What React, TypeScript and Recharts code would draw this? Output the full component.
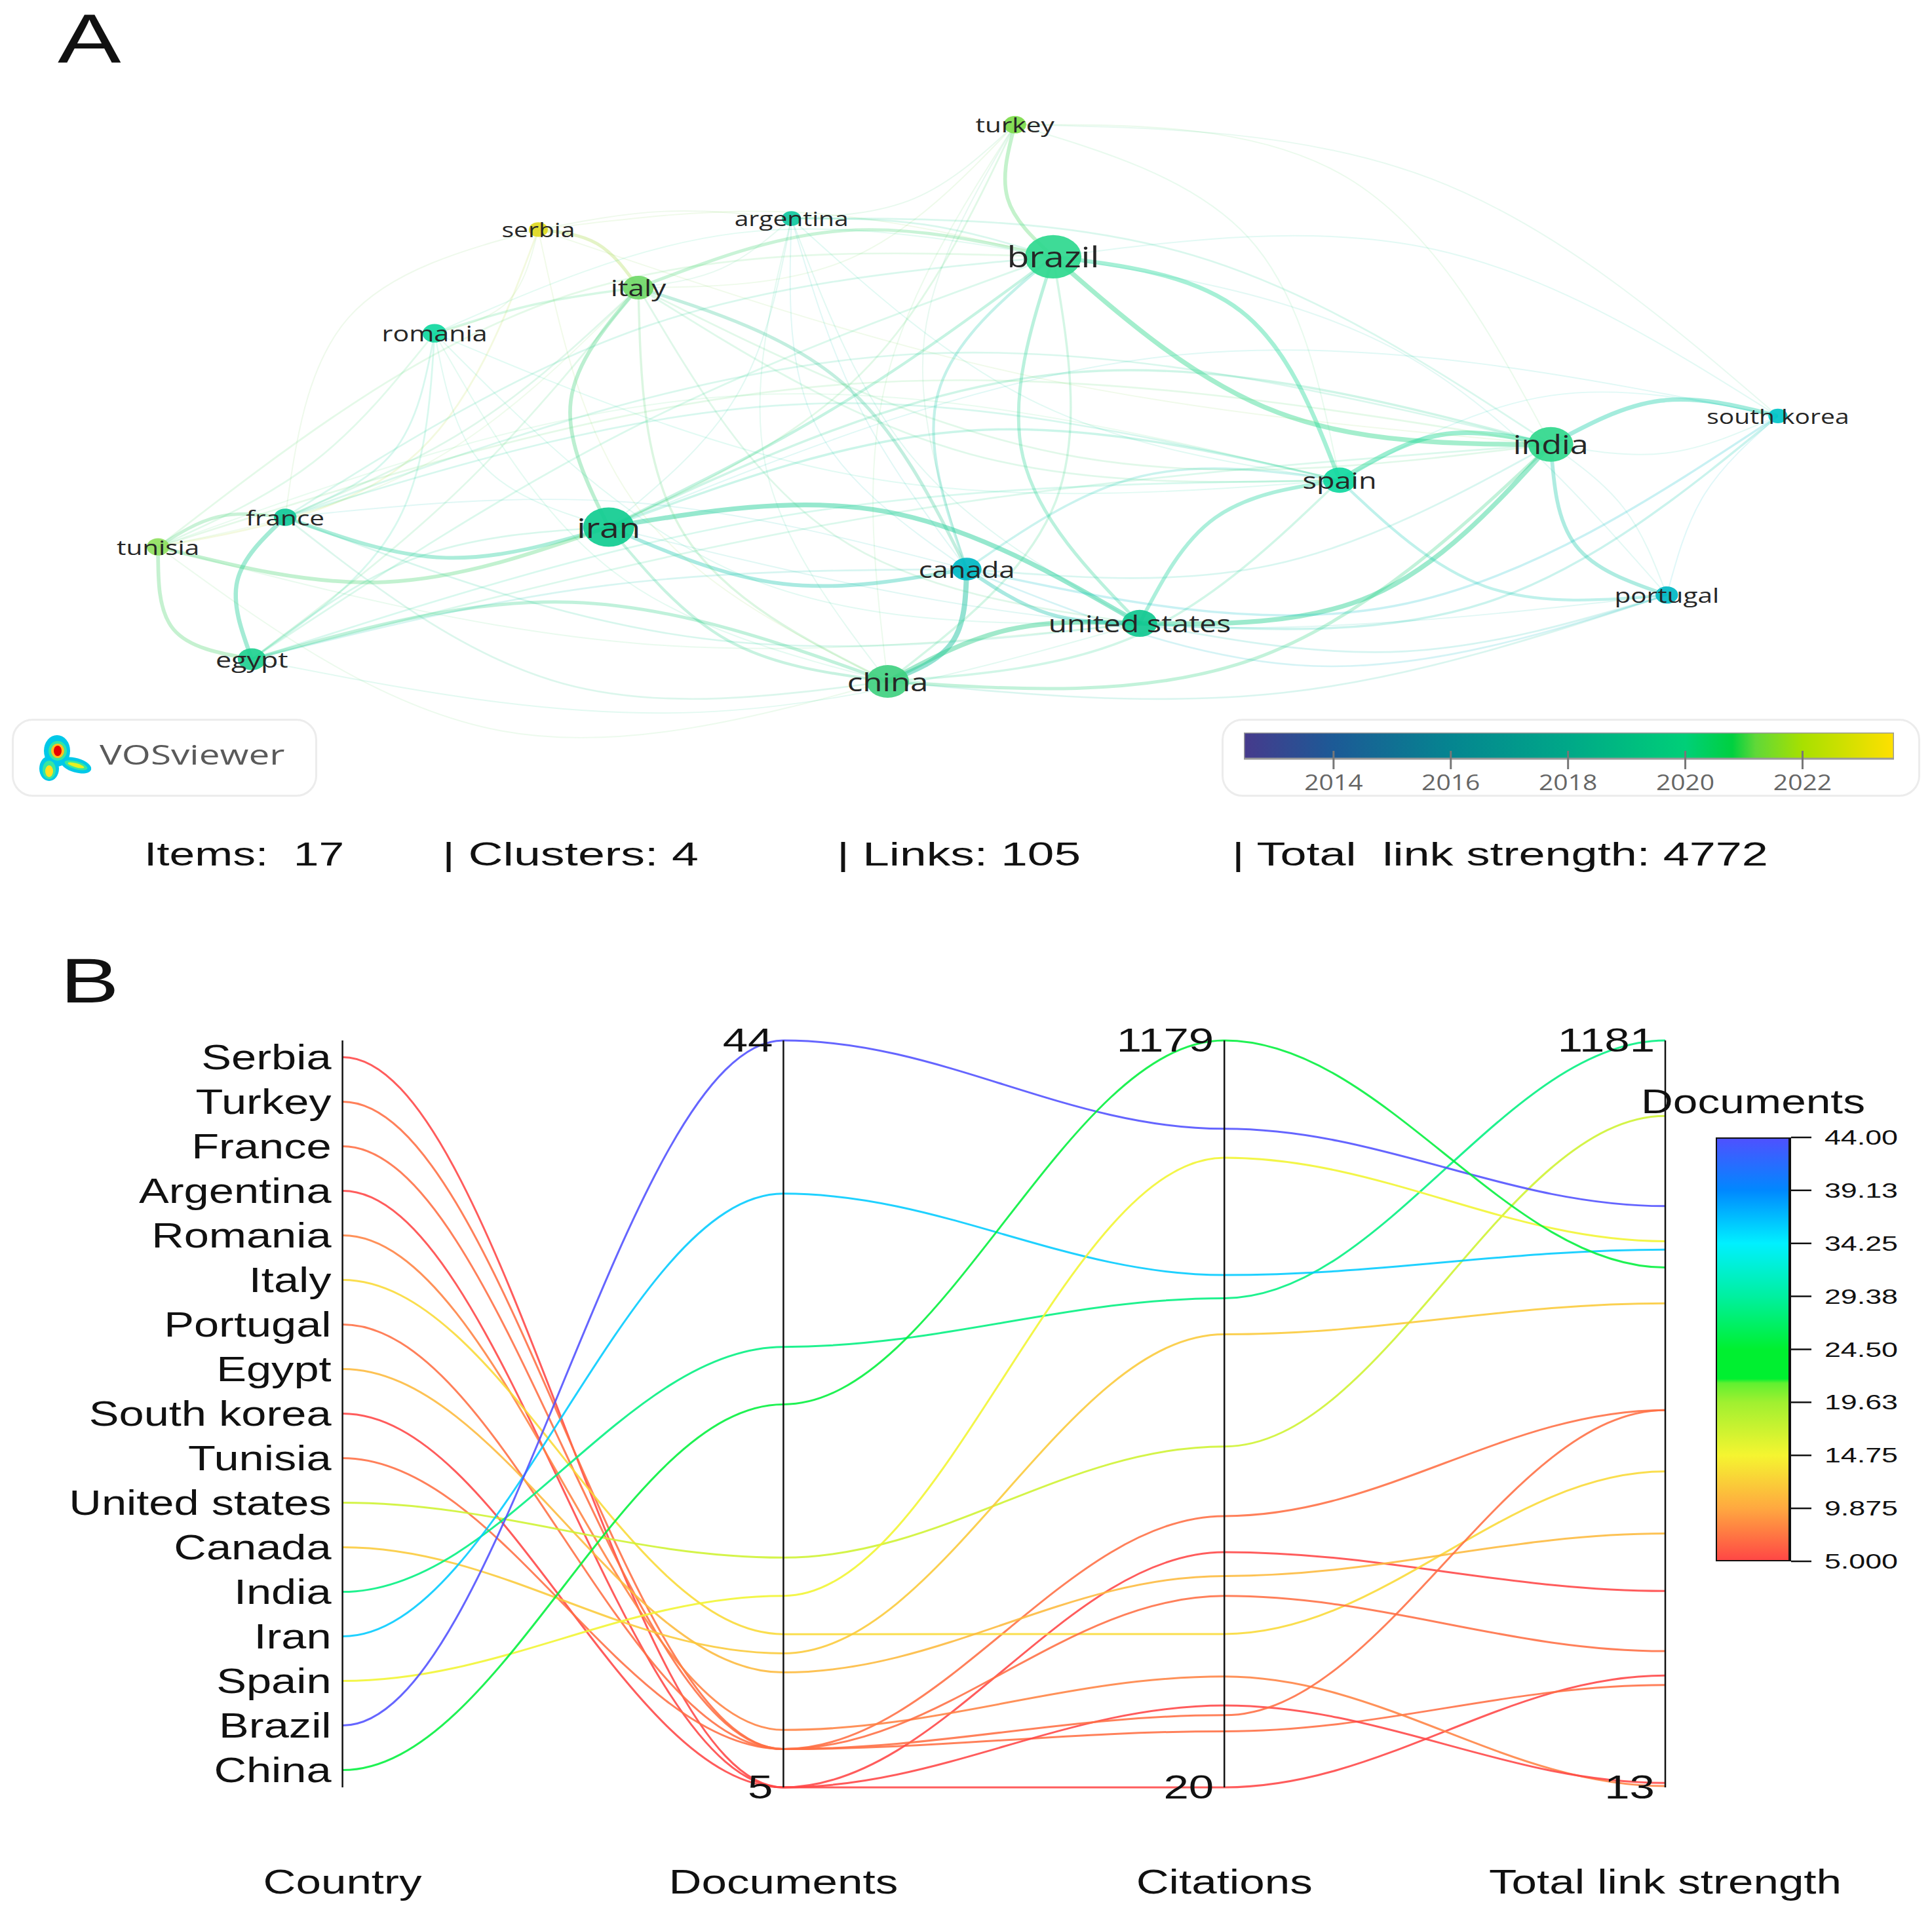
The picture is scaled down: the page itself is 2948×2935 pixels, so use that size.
import {
  Bar,
  BarChart,
  LineChart,
  Line,
  ReferenceDot,
  ReferenceLine,
  Scatter,
  ScatterChart,
  XAxis,
  YAxis,
} from "recharts"

// Panel A, network map. Coordinates are in map units (1 unit = 1.884 px on the page)
const nodeNames = ["turkey", "brazil", "argentina", "serbia", "italy", "romania", "india", "south korea", "spain", "iran", "france", "tunisia", "canada", "portugal", "united states", "egypt", "china"]
const nodeX = [822, 853, 641, 436, 517, 352, 1256, 1440, 1085, 493, 231, 128, 783, 1350, 923, 204, 719]
const nodeY = [101, 208, 177, 186, 233, 270, 360, 337, 389, 427, 419, 443, 461, 482, 505, 534, 552]
const nodeDocs = [7, 44, 5, 5, 13, 8, 28, 5, 15, 36, 7, 7, 12, 7, 17, 11, 25]
const nodeColors = ["#7ddc4a", "#2ed88e", "#10c8a0", "#e0d820", "#70d868", "#10d8a0", "#30d88c", "#00c4c8", "#10d8a0", "#10cc90", "#10c898", "#90e060", "#00b8c4", "#00b8c4", "#10c890", "#20d090", "#40d080"]

// from, to, bow of the arc relative to its length, link strength
const links: [string, string, number, number][] = [
  ["turkey", "brazil", -0.2, 6],
  ["serbia", "italy", 0.15, 5],
  ["italy", "brazil", 0.1, 5],
  ["italy", "iran", -0.22, 6],
  ["italy", "canada", 0.14, 5],
  ["iran", "united states", 0.12, 8],
  ["iran", "canada", -0.1, 6],
  ["france", "iran", -0.11, 6],
  ["tunisia", "iran", -0.1, 6],
  ["tunisia", "france", 0.12, 5],
  ["tunisia", "egypt", -0.28, 6],
  ["france", "egypt", -0.22, 7],
  ["egypt", "china", 0.107, 5],
  ["iran", "china", -0.13, 4],
  ["canada", "china", 0.22, 9],
  ["china", "united states", 0.09, 8],
  ["canada", "united states", -0.1, 6],
  ["china", "india", -0.145, 5],
  ["united states", "india", -0.15, 8],
  ["brazil", "spain", 0.2, 7],
  ["brazil", "india", -0.125, 8],
  ["spain", "india", 0.13, 8],
  ["india", "south korea", 0.13, 7],
  ["india", "portugal", -0.22, 6],
  ["spain", "portugal", -0.15, 4],
  ["spain", "united states", -0.17, 6],
  ["spain", "china", 0.12, 3],
  ["brazil", "united states", -0.2, 5],
  ["brazil", "canada", -0.23, 4],
  ["brazil", "china", 0.2, 3],
  ["iran", "brazil", -0.03, 4],
  ["iran", "spain", 0.1, 3],
  ["iran", "india", 0.12, 3],
  ["canada", "south korea", -0.14, 3],
  ["canada", "spain", 0.13, 3],
  ["united states", "south korea", -0.13, 3],
  ["china", "portugal", -0.07, 2],
  ["united states", "portugal", -0.08, 2],
  ["canada", "portugal", -0.12, 2],
  ["canada", "india", -0.1, 2],
  ["serbia", "tunisia", 0.19, 2],
  ["serbia", "romania", 0.2, 1],
  ["serbia", "france", -0.22, 1],
  ["serbia", "argentina", 0.05, 1],
  ["serbia", "brazil", 0.06, 1],
  ["serbia", "china", -0.16, 1],
  ["serbia", "india", -0.04, 1],
  ["turkey", "italy", 0.14, 1],
  ["turkey", "iran", 0.12, 2],
  ["turkey", "china", -0.12, 1],
  ["turkey", "spain", 0.2, 1],
  ["turkey", "india", 0.2, 1],
  ["turkey", "south korea", 0.12, 1],
  ["turkey", "argentina", 0.12, 1],
  ["turkey", "canada", -0.15, 1],
  ["argentina", "iran", 0.12, 1],
  ["argentina", "canada", -0.18, 1],
  ["argentina", "india", 0.1, 2],
  ["argentina", "italy", 0.1, 1],
  ["argentina", "brazil", 0.05, 2],
  ["argentina", "spain", -0.1, 1],
  ["argentina", "china", -0.16, 1],
  ["argentina", "united states", -0.12, 1],
  ["romania", "italy", 0.03, 3],
  ["romania", "france", 0.18, 2],
  ["romania", "egypt", 0.16, 2],
  ["romania", "tunisia", 0.08, 2],
  ["romania", "iran", -0.2, 1],
  ["romania", "china", -0.14, 1],
  ["romania", "brazil", 0.1, 1],
  ["romania", "spain", -0.08, 1],
  ["romania", "united states", -0.14, 1],
  ["italy", "france", 0.06, 2],
  ["italy", "tunisia", 0.1, 1],
  ["italy", "egypt", 0.04, 2],
  ["italy", "china", -0.2, 3],
  ["italy", "united states", -0.16, 2],
  ["italy", "spain", -0.1, 2],
  ["italy", "india", -0.1, 2],
  ["france", "brazil", 0.08, 2],
  ["france", "india", 0.1, 2],
  ["france", "spain", 0.09, 2],
  ["france", "united states", -0.08, 2],
  ["france", "china", -0.14, 2],
  ["france", "canada", 0.06, 1],
  ["tunisia", "brazil", 0.12, 2],
  ["tunisia", "india", 0.08, 2],
  ["tunisia", "spain", 0.1, 1],
  ["tunisia", "united states", -0.06, 1],
  ["tunisia", "china", -0.16, 1],
  ["egypt", "iran", 0.1, 2],
  ["egypt", "brazil", 0.04, 2],
  ["egypt", "india", 0.03, 2],
  ["egypt", "spain", 0.05, 2],
  ["egypt", "united states", -0.08, 1],
  ["egypt", "canada", 0.04, 2],
  ["iran", "portugal", -0.06, 1],
  ["iran", "south korea", 0.1, 1],
  ["brazil", "portugal", 0.12, 1],
  ["brazil", "south korea", 0.12, 1],
  ["spain", "south korea", 0.12, 1],
  ["india", "south korea", -0.1, 1],
  ["portugal", "south korea", 0.1, 1],
  ["india", "portugal", 0.1, 1],
  ["canada", "argentina", 0.06, 1],
]

// Panel B, parallel coordinates
const countries = ["Serbia", "Turkey", "France", "Argentina", "Romania", "Italy", "Portugal", "Egypt", "South korea", "Tunisia", "United states", "Canada", "India", "Iran", "Spain", "Brazil", "China"]
const documents = [5, 7, 7, 5, 8, 13, 7, 11, 5, 7, 17, 12, 28, 36, 15, 44, 25]
const citations = [20, 107, 441, 385, 192, 258, 317, 348, 147, 132, 549, 723, 779, 815, 997, 1042, 1179]
const linkStrength = [188, 173, 603, 320, 15, 507, 226, 410, 20, 603, 1063, 770, 1181, 854, 867, 922, 826]
const axisNames = ["Country", "Documents", "Citations", "Total link strength"]
const axisEnds: Record<string, string[]> = { Documents: ["44", "5"], Citations: ["1179", "20"], "Total link strength": ["1181", "13"] }
const docTicks = [5, 9.875, 14.75, 19.63, 24.5, 29.38, 34.25, 39.13, 44]
const docTickLabels = ["5.000", "9.875", "14.75", "19.63", "24.50", "29.38", "34.25", "39.13", "44.00"]
const yearTicks = [2014, 2016, 2018, 2020, 2022]

const docStops: [number, string][] = [[5, "#ff4545"], [9.875, "#ffa840"], [14.75, "#f5f530"], [19.63, "#a0f030"], [21.4, "#60f030"], [21.8, "#00f030"], [24.5, "#00f030"], [29.38, "#00f0a0"], [34.25, "#00f0ff"], [39.13, "#0088ff"], [44, "#5050ff"]]
const yearStops: [number, string][] = [[2012.47, "#463a8c"], [2014, "#1c5a96"], [2016, "#058590"], [2018, "#00a888"], [2020, "#00cf78"], [2020.8, "#00d040"], [2021.2, "#60d838"], [2022, "#a8e000"], [2023.56, "#ffe000"]]

const toRgb = (hex: string) => [1, 3, 5].map((i) => parseInt(hex.slice(i, i + 2), 16))

function mixColors(from: string, to: string, t: number) {
  const a = toRgb(from)
  const b = toRgb(to)
  return `rgb(${a.map((v, k) => Math.round(v + (b[k] - v) * t)).join(",")})`
}

function scaleColor(stops: [number, string][], value: number) {
  for (let i = 1; i < stops.length; i++) {
    if (value <= stops[i][0]) {
      return mixColors(stops[i - 1][1], stops[i][1], (value - stops[i - 1][0]) / (stops[i][0] - stops[i - 1][0]))
    }
  }
  return stops[stops.length - 1][1]
}

const normalize = (value: number, min: number, max: number) => (value - min) / (max - min)

// country axis has a little room above and below the first and last name
const countryLow = 0.612
const countryHigh = 17.374
const countryPos = countries.map((_, i) => normalize(countries.length - i, countryLow, countryHigh))

const tableRows = axisNames.map((axis, a) => {
  const row: Record<string, number | string> = { axis }
  countries.forEach((c, i) => {
    if (a === 0) row[c] = countryPos[i]
    if (a === 1) row[c] = normalize(documents[i], 5, 44)
    if (a === 2) row[c] = normalize(citations[i], 20, 1179)
    if (a === 3) row[c] = normalize(linkStrength[i], 13, 1181)
  })
  return row
})

const mapNodes = nodeNames.map((name, i) => ({ name, x: nodeX[i], y: nodeY[i], docs: nodeDocs[i], color: nodeColors[i] }))
const nodeByName = Object.fromEntries(mapNodes.map((n) => [n.name, n]))

function linkPoints(a: string, b: string, bow: number) {
  const p = nodeByName[a]
  const q = nodeByName[b]
  const via = { x: (p.x + q.x) / 2 + bow * (q.y - p.y), y: (p.y + q.y) / 2 - bow * (q.x - p.x) }
  return [{ x: p.x, y: p.y }, via, { x: q.x, y: q.y }]
}

// flat tangent at every axis, the way parcoords draws its lines
function flatTangentCurve(context: any) {
  let started = false
  let x0 = 0
  let y0 = 0
  return {
    areaStart() {},
    areaEnd() {},
    lineStart() {
      started = false
    },
    lineEnd() {},
    point(x: number, y: number) {
      if (!started) {
        started = true
        context.moveTo(x, y)
      } else {
        const reach = (x - x0) * 0.36
        context.bezierCurveTo(x0 + reach, y0, x - reach, y, x, y)
      }
      x0 = x
      y0 = y
    },
  }
}

// the reference picture is stretched sideways, so its text is too
function WideText({ x, y, size, stretch = 1.28, anchor = "middle", fill = "#111", font = "Liberation Sans", children }: any) {
  return (
    <text
      transform={`translate(${x} ${y}) scale(${stretch} 1)`}
      textAnchor={anchor}
      dominantBaseline="central"
      fontFamily={font}
      fontSize={size}
      fill={fill}
    >
      {children}
    </text>
  )
}

function Caption({ x, y, size, stretch = 1.3, center = false, fill = "#111", font = "Liberation Sans", children }: any) {
  return (
    <div
      style={{
        position: "absolute",
        left: x,
        top: y - size / 2,
        fontFamily: font,
        fontSize: size,
        lineHeight: `${size}px`,
        color: fill,
        whiteSpace: "pre",
        transformOrigin: center ? "center" : "left center",
        transform: center ? `translateX(-50%) scaleX(${stretch})` : `scaleX(${stretch})`,
      }}
    >
      {children}
    </div>
  )
}

function LegendBox({ x, y, w, h }: any) {
  return (
    <div
      style={{
        position: "absolute",
        left: x,
        top: y,
        width: w,
        height: h,
        boxSizing: "border-box",
        border: "3px solid #ececec",
        borderRadius: 32,
        background: "#fff",
      }}
    />
  )
}

function MapNode({ cx, cy, payload }: any) {
  const root = Math.sqrt(payload.docs)
  return (
    <g>
      <ellipse cx={cx} cy={cy} rx={6.5 * root} ry={5 * root} fill={payload.color} fillOpacity={0.92} />
      <WideText x={cx} y={cy} size={24 + 2.9 * root} font="Open Sans" fill="#262626">
        {payload.name}
      </WideText>
    </g>
  )
}

function CountryTick({ x, y, payload }: any) {
  const index = countryPos.findIndex((p) => Math.abs(p - payload.value) < 1e-6)
  return (
    <WideText x={x} y={y} size={54} stretch={1.27} anchor="end">
      {countries[index]}
    </WideText>
  )
}

function AxisNameTick({ x, y, payload }: any) {
  return (
    <WideText x={x} y={y + 142} size={52} stretch={1.33}>
      {payload.value}
    </WideText>
  )
}

function YearTick({ x, y, payload }: any) {
  return (
    <g>
      <line x1={x} x2={x} y1={y - 14} y2={y + 14} stroke="#777" strokeWidth={3} />
      <WideText x={x} y={y + 33} size={32} stretch={1.22} font="Open Sans" fill="#666">
        {payload.value}
      </WideText>
    </g>
  )
}

function DocTick({ x, y, payload }: any) {
  const label = docTickLabels[docTicks.indexOf(payload.value)]
  return (
    <g>
      <line x1={x} x2={x + 31} y1={y} y2={y} stroke="#111" strokeWidth={2.5} />
      <WideText x={x + 163} y={y} size={32} stretch={1.4} anchor="end">
        {label}
      </WideText>
    </g>
  )
}

function EndLabel({ cx, cy, text }: any) {
  return (
    <WideText x={cx - 16} y={cy} size={50} stretch={1.38} anchor="end">
      {text}
    </WideText>
  )
}

function NetworkChart() {
  return (
    <ScatterChart width={2948} height={1300} margin={{ top: 0, right: 0, bottom: 0, left: 0 }}>
      <XAxis type="number" dataKey="x" domain={[0, 1564.8]} hide allowDataOverflow />
      <YAxis type="number" dataKey="y" domain={[0, 690]} reversed hide width={0} allowDataOverflow />
      {links.map(([a, b, bow, strength], i) => (
        <Scatter
          key={`link-${i}`}
          data={linkPoints(a, b, bow)}
          line={{
            stroke: mixColors(nodeByName[a].color, nodeByName[b].color, 0.5),
            strokeWidth: 1.2 + strength * 0.75,
            strokeOpacity: 0.08 + strength * 0.045,
          }}
          lineJointType="natural"
          shape={() => null}
          isAnimationActive={false}
        />
      ))}
      <Scatter data={mapNodes} shape={MapNode} isAnimationActive={false} />
    </ScatterChart>
  )
}

function YearBar() {
  return (
    <BarChart width={992} height={130} layout="vertical" data={[{ name: "Year", span: [2012.47, 2023.56] }]} barCategoryGap={0} margin={{ top: 0, right: 0, bottom: 0, left: 0 }}>
      <defs>
        <linearGradient id="yearBar" x1="0" x2="1" y1="0" y2="0">
          {yearStops.map(([year, color]) => (
            <stop key={year} offset={normalize(year, 2012.47, 2023.56)} stopColor={color} />
          ))}
        </linearGradient>
      </defs>
      <XAxis type="number" domain={[2012.47, 2023.56]} ticks={yearTicks} interval={0} height={90} axisLine={false} tickLine={false} tickSize={0} tick={YearTick} allowDataOverflow />
      <YAxis type="category" dataKey="name" hide width={0} />
      <Bar dataKey="span" fill="url(#yearBar)" stroke="#9a9a9a" strokeWidth={3} isAnimationActive={false} />
    </BarChart>
  )
}

function DocumentsBar() {
  return (
    <BarChart width={300} height={687} data={[{ name: "Documents", span: [5, 44] }]} barCategoryGap={0} margin={{ top: 20, right: 0, bottom: 20, left: 0 }}>
      <defs>
        <linearGradient id="docBar" x1="0" x2="0" y1="1" y2="0">
          {docStops.map(([value, color]) => (
            <stop key={value} offset={normalize(value, 5, 44)} stopColor={color} />
          ))}
        </linearGradient>
      </defs>
      <XAxis dataKey="name" hide />
      <YAxis orientation="right" type="number" domain={[5, 44]} ticks={docTicks} interval={0} width={187} axisLine={false} tickLine={false} tickSize={0} tick={DocTick} allowDataOverflow />
      <Bar dataKey="span" fill="url(#docBar)" stroke="#111" strokeWidth={4} isAnimationActive={false} />
    </BarChart>
  )
}

function ParallelChart() {
  return (
    <LineChart width={2948} height={1435} data={tableRows} margin={{ top: 88, right: 407, bottom: 57, left: 22.6 }}>
      <XAxis dataKey="axis" type="category" scale="point" padding={{ left: 0, right: 0 }} height={150} interval={0} axisLine={false} tickLine={false} tickSize={0} tick={AxisNameTick} />
      <YAxis type="number" domain={[0, 1]} ticks={countryPos} interval={0} width={500} axisLine={{ stroke: "#111", strokeWidth: 2.5 }} tickLine={false} tickSize={0} tickMargin={17} tick={CountryTick} />
      {countries.map((c, i) => (
        <Line
          key={c}
          dataKey={c}
          type={flatTangentCurve as any}
          stroke={scaleColor(docStops, documents[i])}
          strokeWidth={3}
          strokeOpacity={0.88}
          dot={false}
          activeDot={false}
          isAnimationActive={false}
        />
      ))}
      {axisNames.slice(1).map((name) => (
        <ReferenceLine key={name} x={name} stroke="#111" strokeWidth={2.5} />
      ))}
      {axisNames.slice(1).flatMap((name) => [
        <ReferenceDot key={`${name}-top`} x={name} y={1} shape={(p: any) => <EndLabel {...p} text={axisEnds[name][0]} />} />,
        <ReferenceDot key={`${name}-bottom`} x={name} y={0} shape={(p: any) => <EndLabel {...p} text={axisEnds[name][1]} />} />,
      ])}
    </LineChart>
  )
}

function Logo() {
  return (
    <svg width={90} height={76} style={{ position: "absolute", left: 55, top: 1120 }}>
      <g fill="#00c8e8">
        <ellipse cx={32} cy={26} rx={20} ry={24} />
        <ellipse cx={20} cy={53} rx={15} ry={19} />
        <ellipse cx={61} cy={48} rx={24} ry={11} transform="rotate(16 61 48)" />
      </g>
      <g fill="#37e6a0">
        <ellipse cx={33} cy={26} rx={14} ry={15} />
        <ellipse cx={20} cy={55} rx={10} ry={14} />
        <ellipse cx={61} cy={48} rx={18} ry={6} transform="rotate(16 61 48)" />
      </g>
      <ellipse cx={33} cy={26} rx={10} ry={11} fill="#ffc020" />
      <ellipse cx={33} cy={26} rx={6} ry={8} fill="#e80000" />
      <ellipse cx={20} cy={57} rx={6} ry={9} fill="#ffe020" />
      <ellipse cx={61} cy={48} rx={13} ry={3} fill="#e8f020" transform="rotate(16 61 48)" />
    </svg>
  )
}

export default function App() {
  return (
    <div style={{ position: "absolute", left: 0, top: 0, width: 2948, height: 2935, background: "#fff", overflow: "hidden" }}>
      <div style={{ position: "absolute", left: 0, top: 0 }}>
        <NetworkChart />
      </div>
      <Caption x={88} y={58} size={105} stretch={1.38}>A</Caption>

      <LegendBox x={18} y={1097} w={466} h={119} />
      <Logo />
      <Caption x={152} y={1151} size={42} stretch={1.35} font="Open Sans" fill="#5a5a5a">VOSviewer</Caption>

      <LegendBox x={1864} y={1097} w={1066} h={119} />
      <div style={{ position: "absolute", left: 1898, top: 1118 }}>
        <YearBar />
      </div>

      <Caption x={220} y={1304} size={50} stretch={1.39}>Items:  17</Caption>
      <Caption x={675} y={1304} size={50} stretch={1.47}>| Clusters: 4</Caption>
      <Caption x={1277} y={1304} size={50} stretch={1.46}>| Links: 105</Caption>
      <Caption x={1880} y={1304} size={50} stretch={1.44}>| Total  link strength: 4772</Caption>

      <Caption x={92} y={1497} size={96} stretch={1.4}>B</Caption>
      <div style={{ position: "absolute", left: 0, top: 1500 }}>
        <ParallelChart />
      </div>

      <Caption x={2675} y={1681} size={52} stretch={1.3} center>Documents</Caption>
      <div style={{ position: "absolute", left: 2618, top: 1716 }}>
        <DocumentsBar />
      </div>
    </div>
  )
}
